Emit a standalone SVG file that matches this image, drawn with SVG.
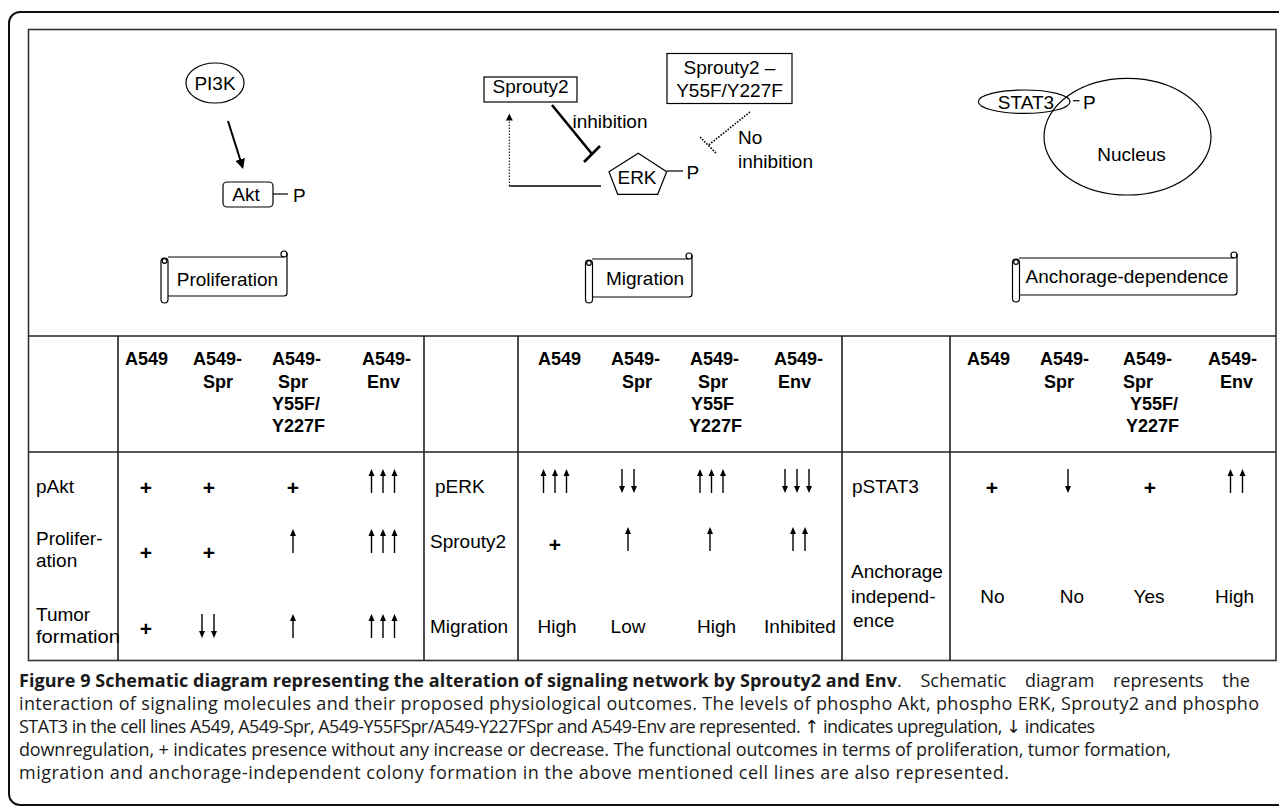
<svg xmlns="http://www.w3.org/2000/svg" xmlns:xlink="http://www.w3.org/1999/xlink" width="1279" height="808" viewBox="0 0 1279 808">
<style>
.t{font-family:"Liberation Sans",Arial,Helvetica,sans-serif;font-size:19px;fill:#000}
.b{font-weight:bold;font-size:18px}
.pl{font-weight:bold;font-size:21px;text-anchor:middle}
.c{text-anchor:middle}
.ln{stroke:#000;fill:none;stroke-width:1.2}
.tb{stroke:#222;stroke-width:1.6;fill:none}
.cap{font-family:"Open Sans","Noto Sans","DejaVu Sans",sans-serif;font-size:18px;fill:#1a1a1a}
</style>
<defs>
<marker id="ah" viewBox="0 0 10 10" refX="8" refY="5" markerWidth="5" markerHeight="5" orient="auto"><path d="M0,0 L10,5 L0,10 z" fill="#000"/></marker>
<marker id="ah2" viewBox="0 0 10 10" refX="8" refY="5" markerWidth="7" markerHeight="7" markerUnits="userSpaceOnUse" orient="auto"><path d="M0,0 L10,5 L0,10 z" fill="#000"/></marker>
<g id="up"><line x1="0" y1="24" x2="0" y2="5" stroke="#000" stroke-width="1.4"/><path d="M-3,7 L0,0 L3,7 Z" fill="#000"/></g>
<g id="dn"><line x1="0" y1="0" x2="0" y2="19" stroke="#000" stroke-width="1.4"/><path d="M-3,17 L0,24 L3,17 Z" fill="#000"/></g>
</defs>
<rect width="1279" height="808" fill="#fff"/>
<rect x="9" y="12" width="1290" height="793" rx="11" fill="none" stroke="#111" stroke-width="2"/>
<rect x="28.5" y="29.5" width="1247.5" height="631" fill="none" stroke="#333" stroke-width="1.6"/>

<g id="pi3k"><ellipse cx="215" cy="83" rx="29" ry="20" class="ln"/><text x="215" y="90" class="t c">PI3K</text></g>
<g id="akt"><rect x="223" y="182" width="50" height="25" rx="4" class="ln"/><text x="246" y="201" class="t c">Akt</text><line x1="273" y1="194" x2="288" y2="194" class="ln"/><text x="293" y="202" class="t">P</text></g>
<g id="proliferation">
<path d="M168,257 H284 M287,253 V293 Q287,296 284,296 H168" class="ln"/>
<circle cx="284" cy="254" r="3" class="ln"/>
<rect x="161" y="258" width="7" height="45" rx="3.5" class="ln" fill="#fff"/>
<circle cx="164.5" cy="261" r="2.3" class="ln"/>
<text x="227.5" y="286" class="t c">Proliferation</text>
</g>

<g id="sprouty2"><rect x="484" y="77" width="93" height="25" class="ln"/><text x="530.5" y="93" class="t c">Sprouty2</text></g>
<g id="sprouty2-mutant"><rect x="667" y="53.5" width="125" height="50" class="ln"/><text x="729.5" y="74" class="t c">Sprouty2 –</text><text x="729.5" y="97" class="t c">Y55F/Y227F</text></g>
<g id="erk"><path d="M638.3,153.3 L666.7,171.7 L657.7,194.3 L617.7,194.3 L609,171.7 Z" class="ln"/><text x="637" y="184" class="t c">ERK</text><line x1="667" y1="171" x2="683" y2="171" class="ln"/><text x="686.5" y="179" class="t">P</text></g>
<g id="migration">
<path d="M592,259 H689 M692,255 V294 Q692,297 689,297 H592" class="ln"/>
<circle cx="689" cy="256" r="3" class="ln"/>
<rect x="585.5" y="260" width="7" height="43" rx="3.5" class="ln" fill="#fff"/>
<circle cx="589" cy="263" r="2.3" class="ln"/>
<text x="645" y="285" class="t c">Migration</text>
</g>

<g id="nucleus"><ellipse cx="1127.5" cy="136.7" rx="83.5" ry="58.3" class="ln"/><text x="1131.5" y="160.5" class="t c">Nucleus</text></g>
<g id="stat3"><ellipse cx="1024.2" cy="101.7" rx="45.8" ry="11.7" class="ln"/><text x="1026" y="109" class="t c">STAT3</text><line x1="1073" y1="100.7" x2="1079.5" y2="100.7" class="ln"/><text x="1083" y="109" class="t">P</text></g>
<g id="anchorage">
<path d="M1019,258 H1234 M1237,254 V292 Q1237,295 1234,295 H1019" class="ln"/>
<circle cx="1234" cy="255" r="3" class="ln"/>
<rect x="1012.5" y="259" width="7" height="43" rx="3.5" class="ln" fill="#fff"/>
<circle cx="1016" cy="262" r="2.3" class="ln"/>
<text x="1127" y="283" class="t c">Anchorage-dependence</text>
</g>

<g id="connectors">
<line x1="228" y1="121" x2="242.5" y2="167" stroke="#000" stroke-width="2" marker-end="url(#ah)"/>
<line x1="552" y1="105" x2="592" y2="154" stroke="#000" stroke-width="2.6"/>
<line x1="584" y1="162" x2="600" y2="146" stroke="#000" stroke-width="2.6"/>
<text x="572.5" y="128" class="t">inhibition</text>
<line x1="601" y1="186" x2="509.3" y2="186" stroke="#000" stroke-width="1.3"/>
<line x1="509.3" y1="186" x2="509.3" y2="115" stroke="#000" stroke-width="1" stroke-dasharray="1.5 1.5" marker-end="url(#ah2)"/>
<line x1="750" y1="112" x2="708" y2="145.5" stroke="#000" stroke-width="1.6" stroke-dasharray="1.6 1.4"/>
<line x1="700" y1="137" x2="716" y2="153" stroke="#000" stroke-width="1.6" stroke-dasharray="1.6 1.4"/>
<text x="738" y="144" class="t">No</text>
<text x="738" y="168" class="t">inhibition</text>
</g>

<g id="table">
<path class="tb" d="M28.5,336 H1276 M28.5,452 H1276 M118,336 V660 M424,336 V660 M518,336 V660 M842,336 V660 M950,336 V660"/>
<g class="t b">
<text x="125" y="365">A549</text>
<text x="193" y="365">A549-</text><text x="203" y="388">Spr</text>
<text x="272" y="365">A549-</text><text x="278" y="388">Spr</text><text x="272" y="410">Y55F/</text><text x="272" y="432">Y227F</text>
<text x="362" y="365">A549-</text><text x="367" y="388">Env</text>
<text x="538" y="365">A549</text>
<text x="611" y="365">A549-</text><text x="622" y="388">Spr</text>
<text x="690" y="365">A549-</text><text x="698" y="388">Spr</text><text x="691" y="410">Y55F</text><text x="689" y="432">Y227F</text>
<text x="774" y="365">A549-</text><text x="778" y="388">Env</text>
<text x="967" y="365">A549</text>
<text x="1040" y="365">A549-</text><text x="1044" y="388">Spr</text>
<text x="1123" y="365">A549-</text><text x="1123" y="388">Spr</text><text x="1130" y="410">Y55F/</text><text x="1126" y="432">Y227F</text>
<text x="1208" y="365">A549-</text><text x="1220" y="388">Env</text>
</g>
<g class="t">
<text x="36" y="493">pAkt</text>
<text x="36" y="545">Prolifer-</text><text x="36" y="567">ation</text>
<text x="36" y="621">Tumor</text><text x="36" y="643" textLength="84" lengthAdjust="spacingAndGlyphs">formation</text>
<text x="435" y="493">pERK</text>
<text x="430" y="548">Sprouty2</text>
<text x="430" y="633">Migration</text>
<text x="852" y="493">pSTAT3</text>
<text x="851" y="578">Anchorage</text><text x="851" y="603">independ-</text><text x="853" y="627">ence</text>
</g>
<g class="t c">
<text x="557" y="633">High</text><text x="628" y="633">Low</text><text x="716.5" y="633">High</text><text x="800" y="633">Inhibited</text>
<text x="992.5" y="603">No</text><text x="1072" y="603">No</text><text x="1149" y="603">Yes</text><text x="1234.5" y="603">High</text>
</g>
<g class="t pl">
<text x="146" y="495">+</text><text x="209" y="495">+</text><text x="293" y="495">+</text>
<text x="146" y="560">+</text><text x="209" y="560">+</text>
<text x="146" y="636">+</text>
<text x="555" y="552">+</text>
<text x="992" y="495">+</text><text x="1150" y="495">+</text>
</g>
<use xlink:href="#up" x="371.5" y="469"/><use xlink:href="#up" x="383" y="469"/><use xlink:href="#up" x="394.5" y="469"/>
<use xlink:href="#up" x="293" y="529"/>
<use xlink:href="#up" x="371.5" y="529"/><use xlink:href="#up" x="383" y="529"/><use xlink:href="#up" x="394.5" y="529"/>
<use xlink:href="#dn" x="202" y="614"/><use xlink:href="#dn" x="214" y="614"/>
<use xlink:href="#up" x="293" y="614"/>
<use xlink:href="#up" x="371.5" y="614"/><use xlink:href="#up" x="383" y="614"/><use xlink:href="#up" x="394.5" y="614"/>
<use xlink:href="#up" x="543.5" y="469"/><use xlink:href="#up" x="555" y="469"/><use xlink:href="#up" x="566.5" y="469"/>
<use xlink:href="#dn" x="622" y="469"/><use xlink:href="#dn" x="634" y="469"/>
<use xlink:href="#up" x="700" y="469"/><use xlink:href="#up" x="711.5" y="469"/><use xlink:href="#up" x="723" y="469"/>
<use xlink:href="#dn" x="785" y="469"/><use xlink:href="#dn" x="797" y="469"/><use xlink:href="#dn" x="809" y="469"/>
<use xlink:href="#up" x="628" y="527"/>
<use xlink:href="#up" x="710" y="527"/>
<use xlink:href="#up" x="793" y="527"/><use xlink:href="#up" x="805" y="527"/>
<use xlink:href="#dn" x="1068" y="469"/>
<use xlink:href="#up" x="1230.5" y="469"/><use xlink:href="#up" x="1242.5" y="469"/>
</g>

<g id="caption" class="cap">
<text x="19" y="687" font-weight="bold" textLength="878" lengthAdjust="spacing">Figure 9 Schematic diagram representing the alteration of signaling network by Sprouty2 and Env</text>
<text x="897" y="687" word-spacing="14">. Schematic diagram represents the</text>
<text x="19" y="710" textLength="1240" lengthAdjust="spacing">interaction of signaling molecules and their proposed physiological outcomes. The levels of phospho Akt, phospho ERK, Sprouty2 and phospho</text>
<text x="19" y="733" textLength="1076" lengthAdjust="spacing">STAT3 in the cell lines A549, A549-Spr, A549-Y55FSpr/A549-Y227FSpr and A549-Env are represented. ↑ indicates upregulation, ↓ indicates</text>
<text x="19" y="756" textLength="1152" lengthAdjust="spacing">downregulation, + indicates presence without any increase or decrease. The functional outcomes in terms of proliferation, tumor formation,</text>
<text x="19" y="779" textLength="990" lengthAdjust="spacing">migration and anchorage-independent colony formation in the above mentioned cell lines are also represented.</text>
</g>
</svg>
